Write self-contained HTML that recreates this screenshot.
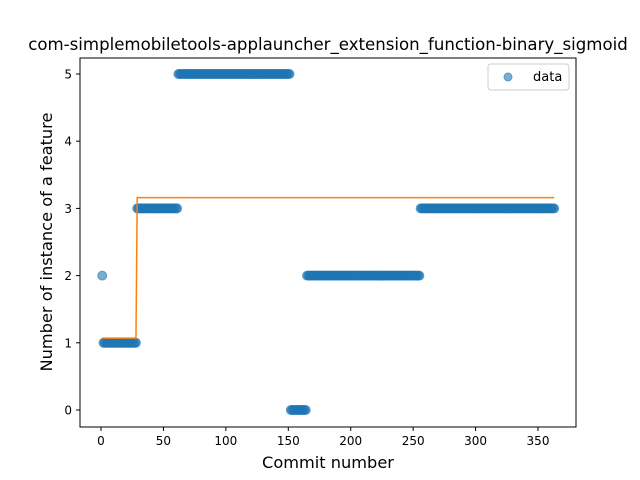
<!DOCTYPE html>
<html><head><meta charset="utf-8"><style>body{margin:0;background:#fff}svg{display:block;font-family:"DejaVu Sans","Liberation Sans",sans-serif}</style></head>
<body>
<svg id="chart" width="640" height="480" viewBox="0 0 640 480" xmlns="http://www.w3.org/2000/svg">
<rect width="640" height="480" fill="#fff"/>
<text x="328" y="50" text-anchor="middle" font-size="16.6">com-simplemobiletools-applauncher_extension_function-binary_sigmoid</text>
<g id="plot"></g>
<rect x="80" y="58" width="496" height="369" fill="none" stroke="#000" stroke-width="1"/>
<text x="328" y="468" text-anchor="middle" font-size="16.2">Commit number</text>
<text transform="translate(52,242) rotate(-90)" text-anchor="middle" font-size="16.2">Number of instance of a feature</text>
<g>
<rect x="488" y="64" width="81" height="26" rx="3" fill="#fff" stroke="#ccc"/>
<circle cx="508" cy="77" r="4" fill="#1f77b4" fill-opacity="0.6" stroke="#1f77b4" stroke-opacity="0.6"/>
<text x="533" y="81" font-size="13">data</text>
</g>
</svg>
<script>
const runStarts = [1, 2, 29, 62, 152, 165, 256];
const runEnds = [1, 28, 61, 151, 164, 255, 363];
const runValues = [2, 1, 3, 5, 0, 2, 3];
const fitX = [1, 28, 29, 363];
const fitY = [1.07, 1.07, 3.16, 3.16];
const xTicks = [0, 50, 100, 150, 200, 250, 300, 350];
const yTicks = [0, 1, 2, 3, 4, 5];
const X = v => 101 + v * 1.2486;
const Y = v => 410 - v * 67.2;
const NS = 'http://www.w3.org/2000/svg';
const g = document.getElementById('plot');
function mk(t, a){const e=document.createElementNS(NS,t);for(const k in a)e.setAttribute(k,a[k]);g.appendChild(e);return e;}
xTicks.forEach(t=>{
  const l=mk('line',{x1:X(t),x2:X(t),y1:427,y2:431,stroke:'#000'});
  
  
  const s=mk('text',{x:X(t),y:445,'text-anchor':'middle','font-size':12});
  s.textContent=t;
  
  
});
yTicks.forEach(t=>{
  const l=mk('line',{x1:76,x2:80,y1:Y(t),y2:Y(t),stroke:'#000'});
  
  
  const s=mk('text',{x:72,y:Y(t)+4.5,'text-anchor':'end','font-size':12});
  s.textContent=t;
  
  
});
runValues.forEach((v,i)=>{
  for(let c=runStarts[i];c<=runEnds[i];c++){
    const p=mk('circle',{cx:X(c),cy:Y(v),r:4.5,fill:'#1f77b4','fill-opacity':0.6,stroke:'#1f77b4','stroke-opacity':0.6});
    
    
  }
});
const fl=mk('polyline',{points:fitX.map((x,i)=>X(x)+','+Y(fitY[i])).join(' '),fill:'none',stroke:'#ff7f0e','stroke-width':1.5});


</script>
</body></html>
